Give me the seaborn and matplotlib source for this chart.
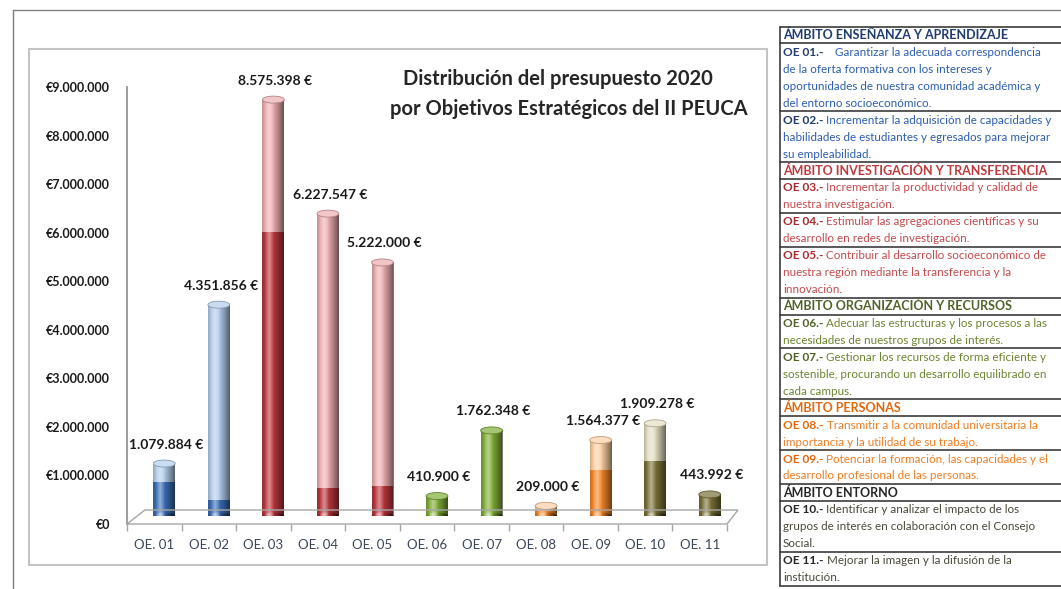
import matplotlib
matplotlib.use("Agg")
import matplotlib.pyplot as plt
import numpy as np
import pandas as pd
import seaborn as sns
from matplotlib.colors import to_rgb
from matplotlib.lines import Line2D
from matplotlib.patches import Ellipse, Polygon, Rectangle

# --- data ---
categories = ["OE. 01", "OE. 02", "OE. 03", "OE. 04", "OE. 05", "OE. 06",
              "OE. 07", "OE. 08", "OE. 09", "OE. 10", "OE. 11"]
totals = [1079884, 4351856, 8575398, 6227547, 5222000, 410900,
          1762348, 209000, 1564377, 1909278, 443992]
# lower (darker) part of each cylinder
base_part = [700000, 320000, 5850000, 570000, 620000, 410900,
             1762348, 110000, 940000, 1130000, 443992]
y_ticks = [0, 1000000, 2000000, 3000000, 4000000, 5000000,
           6000000, 7000000, 8000000, 9000000]

dark_colors = ["#3A6DB5", "#3A6DB5", "#B9363C", "#B9363C", "#B9363C", "#7FAD37",
               "#7FAD37", "#F5862A", "#F5862A", "#7A7238", "#7A7238"]
light_colors = ["#B3CDEA", "#B3CDEA", "#EDAEB1", "#EDAEB1", "#EDAEB1", "#9DC25A",
                "#9DC25A", "#FBCFA3", "#FBCFA3", "#E2DEC0", "#E2DEC0"]

title_lines = ["Distribución del presupuesto 2020",
               "por Objetivos Estratégicos del II PEUCA"]

ambitos = ["ÁMBITO ENSEÑANZA Y APRENDIZAJE", "ÁMBITO INVESTIGACIÓN Y TRANSFERENCIA",
           "ÁMBITO ORGANIZACIÓN Y RECURSOS", "ÁMBITO PERSONAS", "ÁMBITO ENTORNO"]
ambito_of_oe = [0, 0, 1, 1, 1, 2, 2, 3, 3, 4, 4]
oe_codes = ["OE 01.-", "OE 02.-", "OE 03.-", "OE 04.-", "OE 05.-", "OE 06.-",
            "OE 07.-", "OE 08.-", "OE 09.-", "OE 10.-", "OE 11.-"]
oe_texts = [
    ["    Garantizar la adecuada correspondencia",
     "de la oferta formativa con los intereses y",
     "oportunidades de nuestra comunidad académica y",
     "del entorno socioeconómico."],
    [" Incrementar la adquisición de capacidades y",
     "habilidades de estudiantes y egresados para mejorar",
     "su empleabilidad."],
    [" Incrementar la productividad y calidad de",
     "nuestra investigación."],
    [" Estimular las agregaciones científicas y su",
     "desarrollo en redes de investigación."],
    [" Contribuir al desarrollo socioeconómico de",
     "nuestra región mediante la transferencia y la",
     "innovación."],
    [" Adecuar las estructuras y los procesos a las",
     "necesidades de nuestros grupos de interés."],
    [" Gestionar los recursos de forma eficiente y",
     "sostenible, procurando un desarrollo equilibrado en",
     "cada campus."],
    [" Transmitir a la comunidad universitaria la",
     "importancia y la utilidad de su trabajo."],
    [" Potenciar la formación, las capacidades y el",
     "desarrollo profesional de las personas."],
    [" Identificar y analizar el impacto de los",
     "grupos de interés en colaboración con el Consejo",
     "Social."],
    [" Mejorar la imagen y la difusión de la",
     "institución."],
]

header_colors = ["#1F3B70", "#C0393B", "#4F6228", "#E3670C", "#262626"]
code_colors = ["#1F3B70", "#A8292E", "#4F6228", "#E3670C", "#262626"]
body_colors = ["#2C5DAE", "#C44A4C", "#6C8530", "#F07D22", "#4A4838"]

W, H = 1061, 589


def fx(x):
    return x / W


def fy(y):
    return 1 - y / H


def mix(c, other, t):
    c, other = np.array(to_rgb(c)), np.array(to_rgb(other))
    return tuple(c * (1 - t) + other * t)


sns.set_theme(style="white")
plt.rcParams["font.family"] = ["Lato", "DejaVu Sans"]

fig = plt.figure(figsize=(W / 100, H / 100), dpi=100)
fig.patch.set_facecolor("white")

# outer frame lines and chart box
fig.add_artist(Line2D([fx(13), 1], [fy(9.5), fy(9.5)], color="#7F7F7F", lw=1))
fig.add_artist(Line2D([fx(13), fx(13)], [fy(9.5), 0], color="#7F7F7F", lw=1))
fig.add_artist(Rectangle((fx(29), fy(565)), (767 - 29) / W, (565 - 49) / H,
                         fill=False, ec="#C4C4C4", lw=1.5))

# front plane: axis, ticks and labels
ax_h = (524 - 87) / H
ax = fig.add_axes([fx(127), fy(524), 600 / W, ax_h])
ax.set_facecolor("none")
ax.set_xlim(-0.5, len(categories) - 0.5)
ax.set_ylim(0, 9000000)
for s in ["top", "right", "bottom"]:
    ax.spines[s].set_visible(False)
ax.spines["left"].set_color("#8C8C8C")
ax.spines["left"].set_linewidth(1.2)
ax.set_yticks(y_ticks, ["€" + f"{v:,}".replace(",", ".") for v in y_ticks])
ax.tick_params(axis="y", length=3, width=1, color="#8C8C8C", pad=9,
               labelsize=9, labelcolor="#1A1A1A")
for lbl in ax.get_yticklabels():
    lbl.set_fontweight("bold")
ax.set_xticks(range(len(categories)), categories)
ax.set_xticks(np.arange(-0.5, len(categories)), minor=True)
ax.tick_params(axis="x", which="major", length=0, pad=11, labelsize=9.5,
               labelcolor="#3A4658")
ax.tick_params(axis="x", which="minor", length=5, width=1, color="#A6A6A6",
               direction="out", bottom=True)
ax.set_xlabel("")
ax.set_ylabel("")

# floor of the 3D plot
fig.add_artist(Polygon([(fx(127), fy(524)), (fx(727), fy(524)),
                        (fx(738), fy(510)), (fx(145), fy(510))],
                       closed=True, fill=False, ec="#A6A6A6", lw=1))

# back plane: cylinders
axb = fig.add_axes([fx(137), fy(516), 600 / W, ax_h])
axb.set_facecolor("none")
df = pd.DataFrame({"oe": categories, "total": totals, "base": base_part})
sns.barplot(data=df, x="oe", y="total", hue="oe", palette=light_colors,
            width=0.4, saturation=1, errorbar=None, legend=False, ax=axb,
            edgecolor="none", linewidth=0)
sns.barplot(data=df, x="oe", y="base", hue="oe", palette=dark_colors,
            width=0.4, saturation=1, errorbar=None, legend=False, ax=axb,
            edgecolor="none", linewidth=0)
full_bars = list(axb.patches)[:len(categories)]
axb.set_xlim(-0.5, len(categories) - 0.5)
axb.set_ylim(0, 9000000)
axb.axis("off")

# cylinder shading
u = np.linspace(0, 1, 80)
hi = np.clip(1 - np.abs(u - 0.33) / 0.22, 0, 1) * 0.45
lo = np.clip((np.abs(u - 0.33) - 0.12) / 0.55, 0, 1) ** 1.2 * 0.55
shade = np.zeros((1, len(u), 4))
shade[0, :, :3] = np.where(hi > lo, 1.0, 0.0)[:, None]
shade[0, :, 3] = np.maximum(hi, lo)

cap_h = 7 / (ax_h * H) * 9000000
for i, p in enumerate(full_bars):
    x0, w = p.get_x(), p.get_width()
    xc = x0 + w / 2
    top = totals[i]
    top_col = light_colors[i] if base_part[i] < top else dark_colors[i]
    bottom = Ellipse((xc, 0), w, cap_h, fc=dark_colors[i], ec="none", zorder=0.5)
    axb.add_patch(bottom)
    for clip in (p, bottom):
        im = axb.imshow(shade, extent=(x0, x0 + w, -cap_h / 2, top), aspect="auto",
                        interpolation="bilinear", zorder=3)
        im.set_clip_path(clip)
    axb.add_patch(Ellipse((xc, top), w, cap_h, fc=mix(top_col, "white", 0.3),
                          ec=mix(top_col, "black", 0.25), lw=0.6, zorder=4))
    axb.annotate(f"{top:,}".replace(",", ".") + " €", (xc, top), xytext=(2, 19),
                 textcoords="offset pixels", ha="center", va="center",
                 fontsize=10, fontweight="bold", color="#1A1A1A",
                 annotation_clip=False)
axb.set_xlim(-0.5, len(categories) - 0.5)
axb.set_ylim(0, 9000000)

# title
fig.text(fx(558), fy(79), title_lines[0], ha="center", va="center",
         fontsize=14.5, fontweight="bold", color="#262626")
fig.text(fx(569), fy(109), title_lines[1], ha="center", va="center",
         fontsize=14.5, fontweight="bold", color="#262626")

# objectives table on the right
line_h = 16.94
y0 = 35
tx = 783
body_fs = 8.4


def hline(y):
    fig.add_artist(Line2D([fx(780), 1], [fy(y), fy(y)], color="#3C3C3C", lw=1.2))


k = 0
hline(y0 - line_h / 2)
for a, name in enumerate(ambitos):
    fig.text(fx(tx), fy(y0 + k * line_h), name, ha="left", va="center",
             fontsize=9, fontweight="bold", color=header_colors[a])
    k += 1
    hline(y0 + k * line_h - line_h / 2)
    for i, code in enumerate(oe_codes):
        if ambito_of_oe[i] != a:
            continue
        lines = oe_texts[i]
        t = fig.text(fx(tx), fy(y0 + k * line_h + 4), code, ha="left",
                     va="baseline", fontsize=body_fs + 0.2, fontweight="bold",
                     color=code_colors[a])
        ax.annotate(lines[0], xy=(1, 0), xycoords=t, ha="left", va="bottom",
                    fontsize=body_fs, color=body_colors[a], annotation_clip=False)
        for j, line in enumerate(lines[1:], start=1):
            fig.text(fx(tx), fy(y0 + (k + j) * line_h + 4), line, ha="left",
                     va="baseline", fontsize=body_fs, color=body_colors[a])
        k += len(lines)
        hline(y0 + k * line_h - line_h / 2)
fig.add_artist(Line2D([fx(780), fx(780)],
                      [fy(y0 - line_h / 2), fy(y0 + k * line_h - line_h / 2)],
                      color="#3C3C3C", lw=1.2))

fig.savefig("out.png", dpi=100, facecolor="white")
